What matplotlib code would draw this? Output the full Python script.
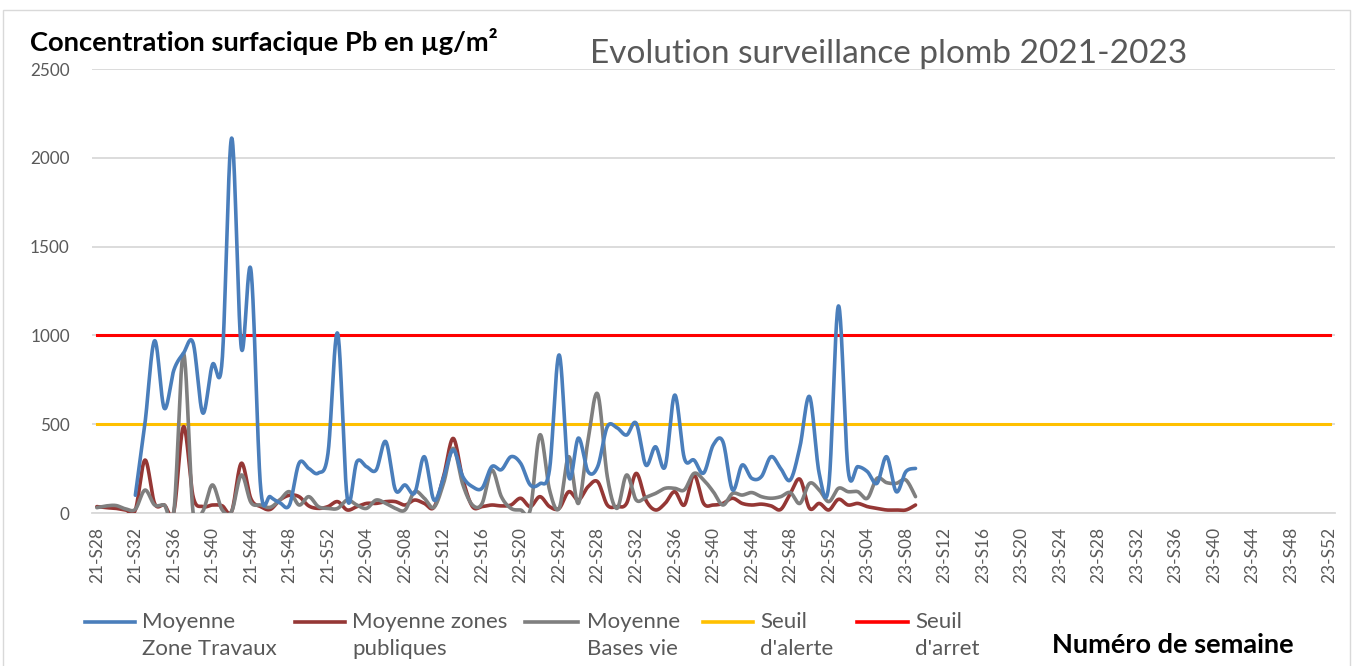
import numpy as np
import matplotlib
matplotlib.use("Agg")
import matplotlib.pyplot as plt
from matplotlib.lines import Line2D
from matplotlib.patches import Rectangle

# ---------------- data ----------------
weeks = ([f"21-S{w:02d}" for w in range(28, 53)] +
         [f"22-S{w:02d}" for w in range(1, 53)] +
         [f"23-S{w:02d}" for w in range(1, 53)])

zone_travaux_start = 4
zone_travaux = [100, 505, 970, 590, 805, 900, 957, 563, 835, 850, 2111, 930, 1368,
                148, 92, 58, 45, 281, 251, 225, 336, 1012, 84, 289, 261, 242, 402,
                130, 158, 113, 317, 73, 200, 355, 205, 148, 140, 261, 244, 317, 280,
                158, 165, 244, 890, 205, 422, 233, 261, 486, 480, 439, 505, 270, 373,
                261, 664, 308, 298, 225, 383, 402, 130, 270, 195, 205, 317, 251, 186,
                373, 655, 223, 158, 1166, 242, 261, 233, 167, 317, 120, 233, 251]

zones_publiques = [36, 30, 26, 17, 17, 298, 54, 45, 9, 486, 92, 36, 45, 41, 9, 280,
                   80, 36, 20, 73, 100, 92, 40, 26, 36, 64, 17, 36, 54, 54, 64, 64,
                   45, 73, 54, 32, 205, 420, 190, 36, 36, 45, 40, 45, 83, 36, 92, 36,
                   26, 120, 73, 148, 176, 45, 36, 54, 223, 73, 17, 54, 120, 45, 214,
                   54, 45, 54, 83, 54, 45, 50, 40, 20, 110, 190, 26, 54, 17, 77, 45,
                   54, 36, 26, 17, 17, 17, 45]

bases_vie = [30, 40, 42, 23, 21, 129, 45, 45, 9, 899, 0, 9, 158, 19, 9, 214, 60,
             45, 32, 73, 120, 45, 92, 36, 26, 26, 73, 45, 26, 73, 54, 26, 17, 120,
             83, 32, 167, 364, 160, 45, 54, 242, 92, 26, 17, 17, 440, 130, 26, 317,
             54, 411, 670, 205, 26, 214, 73, 88, 110, 139, 139, 130, 223, 186, 120,
             45, 110, 101, 115, 92, 83, 92, 115, 54, 167, 130, 64, 139, 120, 120,
             83, 195, 171, 167, 186, 92]

seuil_alerte = 500
seuil_arret = 1000

series_names = ["Moyenne\nZone Travaux", "Moyenne zones\npubliques",
                "Moyenne\nBases vie", "Seuil\nd'alerte", "Seuil\nd'arret"]
series_colors = ["#4a7ebb", "#953735", "#7f7f7f", "#ffc000", "#ff0000"]

title = "Evolution surveillance plomb 2021-2023"
ylabel = "Concentration surfacique Pb en µg/m²"
xlabel = "Numéro de semaine"
yticks = [0, 500, 1000, 1500, 2000, 2500]

# ---------------- helpers ----------------
W, H = 1354, 666
FONT = "Lato"


def fx(px):
    return px / W


def fy(py):
    return 1 - py / H


def smooth(x, y, n=24):
    """Excel-like smoothed line: Catmull-Rom converted to cubic Bezier."""
    x = np.asarray(x, float)
    y = np.asarray(y, float)
    p = np.column_stack([x, y])
    pe = np.vstack([p[0], p, p[-1]])
    t = np.linspace(0, 1, n, endpoint=False)[:, None]
    out = []
    for k in range(len(p) - 1):
        P0, P1, P2, P3 = pe[k], pe[k + 1], pe[k + 2], pe[k + 3]
        c1 = P1 + (P2 - P0) / 6.0
        c2 = P2 - (P3 - P1) / 6.0
        seg = ((1 - t) ** 3) * P1 + 3 * ((1 - t) ** 2) * t * c1 + \
              3 * (1 - t) * t ** 2 * c2 + t ** 3 * P2
        out.append(seg)
    out.append(p[-1][None, :])
    out = np.vstack(out)
    return out[:, 0], out[:, 1]


# ---------------- figure ----------------
fig = plt.figure(figsize=(W / 100, H / 100), dpi=100)
fig.patches.append(Rectangle((fx(3), fy(700)), fx(1347), fy(10) - fy(700),
                             transform=fig.transFigure, fill=False,
                             edgecolor="#d9d9d9", linewidth=1.0))

ax = fig.add_axes([fx(92), fy(513), fx(1334.5) - fx(92), fy(69) - fy(513)])
n = len(weeks)
xs = np.arange(n)

ax.set_xlim(-0.5, n - 0.5)
ax.set_ylim(0, 2500)
ax.set_yticks(yticks)
ax.grid(axis="y", color="#d9d9d9", linewidth=1.3)
ax.set_axisbelow(True)
for s in ["top", "right", "left"]:
    ax.spines[s].set_visible(False)
ax.spines["bottom"].set_color("#d9d9d9")
ax.spines["bottom"].set_linewidth(1.3)
ax.tick_params(axis="both", length=0)
ax.tick_params(axis="y", pad=16, labelsize=12.3, labelcolor="#595959")
ax.set_xticks(xs[::4])
ax.set_xticklabels(weeks[::4], rotation=90, fontsize=12.5, color="#595959",
                   family=FONT)
ax.tick_params(axis="x", pad=10)
for lab in ax.get_yticklabels():
    lab.set_family(FONT)

# thresholds
ax.plot(xs, [seuil_alerte] * n, color=series_colors[3], lw=2.2, zorder=2)
ax.plot(xs, [seuil_arret] * n, color=series_colors[4], lw=2.2, zorder=2)

# series
xb = np.arange(zone_travaux_start, zone_travaux_start + len(zone_travaux))
sx, sy = smooth(xb, zone_travaux)
ax.plot(sx, sy, color=series_colors[0], lw=2.6, zorder=5, solid_capstyle="round")
xr = np.arange(len(zones_publiques))
sx, sy = smooth(xr, zones_publiques)
ax.plot(sx, sy, color=series_colors[1], lw=2.6, zorder=3, solid_capstyle="round")
xg = np.arange(len(bases_vie))
sx, sy = smooth(xg, bases_vie)
ax.plot(sx, sy, color=series_colors[2], lw=2.6, zorder=4, solid_capstyle="round")

# texts
fig.text(fx(590), fy(63), title, fontsize=24, color="#595959", family=FONT,
         ha="left", va="baseline")
fig.text(fx(30), fy(51), ylabel, fontsize=19.7, color="black", family=FONT,
         weight="bold", ha="left", va="baseline")
fig.text(fx(1052), fy(653), xlabel, fontsize=19.5, color="black", family=FONT,
         weight="bold", ha="left", va="baseline")

# legend (manual)
leg_pos = [(85, 135, 142), (295, 345, 352), (525, 578, 587), (703, 753, 760),
           (857, 908, 915)]
for (x0, x1, xt), name, col in zip(leg_pos, series_names, series_colors):
    fig.add_artist(Line2D([fx(x0), fx(x1)], [fy(622), fy(622)],
                          transform=fig.transFigure, color=col, lw=2.6))
    fig.text(fx(xt), fy(612), name, fontsize=16, color="#595959", family=FONT,
             ha="left", va="top", linespacing=1.42)

fig.savefig("out.png", dpi=100)
